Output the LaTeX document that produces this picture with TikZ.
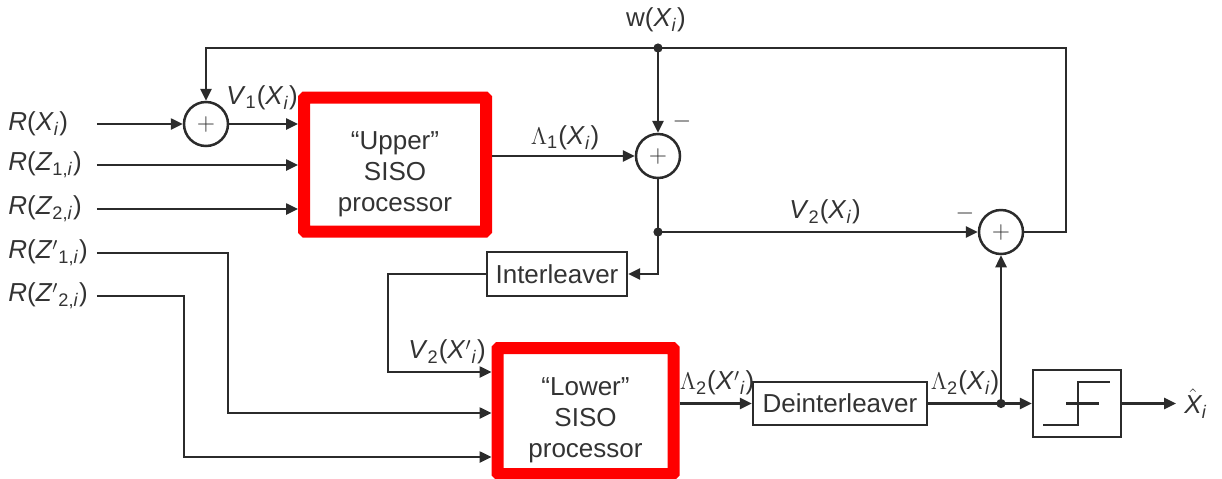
\documentclass[tikz,border=0pt]{standalone}
\usepackage{fontspec}
\setmainfont{Liberation Sans}
\usetikzlibrary{arrows.meta}
\definecolor{ink}{HTML}{2B2B2B}
\definecolor{txt}{HTML}{333333}
\definecolor{hired}{HTML}{FF0000}
\newcommand{\vi}[1]{\textit{#1}}
\newcommand{\sbs}[1]{\textsubscript{#1}}

\begin{document}
\begin{tikzpicture}[
    x=0.5pt, y=-0.5pt,
    font=\fontsize{13}{15.5}\selectfont,
    every node/.style={text=txt},
    sum/.style={circle, draw=ink, line width=1.25pt, minimum size=22pt, inner sep=0pt},
    blk/.style={rectangle, draw=ink, line width=1.2pt, inner sep=2pt, align=center},
    siso/.style={rectangle, draw=hired, line width=6pt, rounded corners=0.5pt, align=center},
    inp/.style={anchor=west, inner sep=0pt, text width=44pt, align=left},
    lbl/.style={inner sep=0pt},
    arr/.style={draw=ink, line width=1.25pt, -{Triangle[length=6pt, width=5.5pt]}},
    wire/.style={draw=ink, line width=1.25pt},
]
\useasboundingbox (0,0) rectangle (1222,478);

% Processors and blocks
\node[siso, minimum width=91pt, minimum height=67pt] (upper) at (395,164.5)
    {\rule{0pt}{18.5pt}“Upper”\\SISO\\processor};
\node[siso, minimum width=88pt, minimum height=63pt] (lower) at (585.5,411)
    {\rule{0pt}{18.5pt}“Lower”\\SISO\\processor};
\node[blk, minimum width=70pt, minimum height=22pt] (intl) at (557,274) {Interleaver};
\node[blk, minimum width=87pt, minimum height=21.5pt] (deint) at (840,403.5) {Deinterleaver};
\node[blk, minimum width=44pt, minimum height=33.5pt] (hard) at (1077,403.5) {};

% Adders
\node[sum] (sum1) at (206,124) {$+$};
\node[sum] (sum2) at (658,156) {$+$};
\node[sum] (sum3) at (1001,232) {$+$};

% Inputs and output
\node[inp] (rx) at (8,124) {\vi{R}(\vi{X}\sbs{\vi{i}})};
\node[inp] (rz1) at (8,165) {\vi{R}(\vi{Z}\sbs{1,\vi{i}})};
\node[inp] (rz2) at (8,209) {\vi{R}(\vi{Z}\sbs{2,\vi{i}})};
\node[inp] (rzp1) at (8,253) {\vi{R}(\vi{Z}$'$\sbs{1,\vi{i}})};
\node[inp] (rzp2) at (8,296) {\vi{R}(\vi{Z}$'$\sbs{2,\vi{i}})};
\node[lbl, anchor=west, inner sep=4pt] (xhat) at (1176,403.5) {$\hat{\textit{X}}$\sbs{\vi{i}}};

% Branch points and corners
\coordinate (wdot) at (658,48);
\coordinate (v2dot) at (658,232);
\coordinate (ddot) at (1001,403.5);
\coordinate (fbr) at (1066,232);
\coordinate (vcorn) at (388,372);
\coordinate (zc1) at (228,413);
\coordinate (zc2) at (184,457);

% Signal labels
\node[lbl] (v1l) at (262,98) {\vi{V}\sbs{1}(\vi{X}\sbs{\vi{i}})};
\node[lbl] (l1l) at (565,138) {$\Lambda$\sbs{1}(\vi{X}\sbs{\vi{i}})};
\node[lbl] (wl) at (656,20) {w(\vi{X}\sbs{\vi{i}})};
\node[lbl] (m2) at (682,121) {$-$};
\node[lbl] (v2l) at (825,212) {\vi{V}\sbs{2}(\vi{X}\sbs{\vi{i}})};
\node[lbl] (m3) at (965,213) {$-$};
\node[lbl] (v2pl) at (447,352) {\vi{V}\sbs{2}(\vi{X}$'$\sbs{\vi{i}})};
\node[lbl] (l2pl) at (717,383) {$\Lambda$\sbs{2}(\vi{X}$'$\sbs{\vi{i}})};
\node[lbl] (l2l) at (965,383) {$\Lambda$\sbs{2}(\vi{X}\sbs{\vi{i}})};

% Connections
\draw[arr] (rx) -- (sum1);
\draw[arr] (sum1) -- (upper.west |- sum1);
\draw[arr] (rz1) -- (upper.west |- rz1);
\draw[arr] (rz2) -- (upper.west |- rz2);
\draw[arr] (upper.east |- sum2) -- (sum2);
\draw[arr] (wdot) -- (sum2);
\draw[wire] (sum2) -- (v2dot);
\draw[arr] (v2dot) -- (sum3);
\draw[arr] (v2dot) |- (intl);
\draw[arr] (intl) -| (vcorn) -- (lower.west |- vcorn);
\draw[arr] (rzp1) -| (zc1) -- (lower.west |- zc1);
\draw[arr] (rzp2) -| (zc2) -- (lower.west |- zc2);
\draw[arr] (lower.east |- deint) -- (deint);
\draw[wire] (deint) -- (ddot);
\draw[arr] (ddot) -- (sum3);
\draw[arr] (ddot) -- (hard);
\draw[arr] (hard) -- (xhat);
\draw[arr] (sum3) -- (fbr) |- (wdot) -| (sum1);
\fill[ink] (wdot) circle (2.3pt) (v2dot) circle (2.3pt) (ddot) circle (2.3pt);

% Hard decision symbol
\draw[wire] (1043,425) -- (1078,425) -- (1078,382) -- (1110,382);
\draw[wire] (1066,403.5) -- (1099,403.5);

\end{tikzpicture}
\end{document}
